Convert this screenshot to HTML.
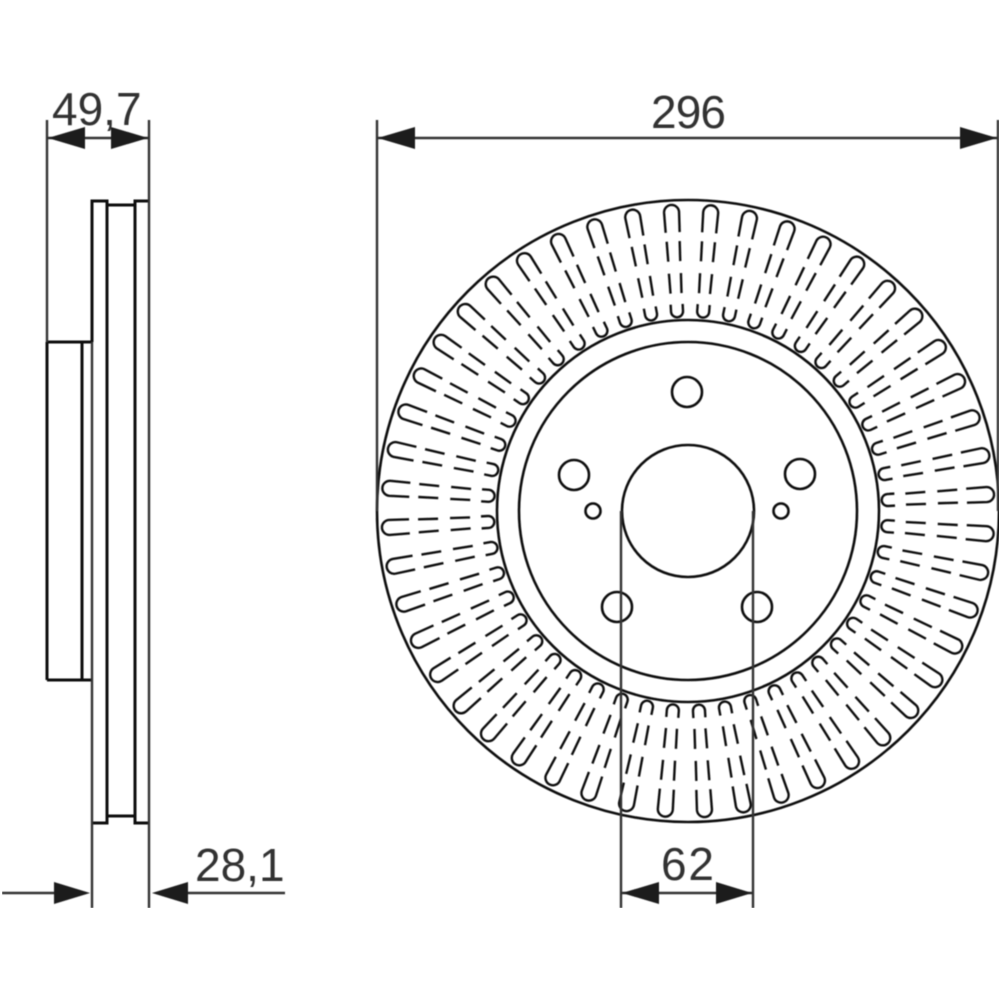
<!DOCTYPE html>
<html>
<head>
<meta charset="utf-8">
<style>
html,body{margin:0;padding:0;background:#fff;width:1000px;height:1000px;overflow:hidden}
svg{display:block}
text{font-family:"Liberation Sans",sans-serif;font-size:46px;fill:#333}
</style>
</head>
<body>
<svg width="1000" height="1000" viewBox="0 0 1000 1000" xmlns="http://www.w3.org/2000/svg">
<defs>
<filter id="b" x="0" y="0" width="100%" height="100%"><feGaussianBlur stdDeviation="0.4"/></filter>
<g id="v" fill="none" stroke="#111" stroke-width="2.4" stroke-linecap="butt">
<path d="M681,232 L680.5,212 A7.5,7.5 0 0 1 695.5,212 L695,232"/>
<path d="M681.5,241 L682,261 M694.5,241 L694,261"/>
<path d="M682,273 L682.5,293 M694,273 L693.5,293"/>
<path d="M682,304 L682,311 A6,6 0 0 0 694,311 L694,304"/>
</g>
<g id="q">
<use href="#v" transform="rotate(3.75 688 511)"/>
<use href="#v" transform="rotate(11.25 688 511)"/>
<use href="#v" transform="rotate(18.75 688 511)"/>
<use href="#v" transform="rotate(26.25 688 511)"/>
<use href="#v" transform="rotate(33.75 688 511)"/>
<use href="#v" transform="rotate(41.25 688 511)"/>
<use href="#v" transform="rotate(48.75 688 511)"/>
<use href="#v" transform="rotate(56.25 688 511)"/>
<use href="#v" transform="rotate(63.75 688 511)"/>
<use href="#v" transform="rotate(71.25 688 511)"/>
<use href="#v" transform="rotate(78.75 688 511)"/>
<use href="#v" transform="rotate(86.25 688 511)"/>
</g>
</defs>

<g filter="url(#b)">
<!-- Front view vents -->
<g transform="rotate(0.6 688 511)">
<use href="#q"/>
<use href="#q" transform="rotate(90 688 511)"/>
<use href="#q" transform="rotate(180 688 511)"/>
<use href="#q" transform="rotate(270 688 511)"/>
</g>

<!-- Front view circles -->
<g fill="none" stroke="#111" stroke-width="2.6">
<circle cx="688" cy="511" r="311"/>
<circle cx="688" cy="511" r="191"/>
<circle cx="688" cy="511" r="169"/>
<circle cx="688" cy="511" r="66"/>
<circle cx="687" cy="392" r="15"/>
<circle cx="574" cy="475" r="15"/>
<circle cx="800" cy="474" r="15"/>
<circle cx="617" cy="607" r="15"/>
<circle cx="757" cy="607" r="15"/>
<circle cx="593" cy="511" r="7.5"/>
<circle cx="781" cy="511" r="7.5"/>
</g>

<!-- Side view -->
<g fill="none" stroke="#111" stroke-width="3">
<path d="M92,342 V201 H107 V205 H135 V201 H149"/>
<path d="M92,823 H107 V816 H135 V823 H149"/>
<path d="M107,201 V823 M135,201 V823"/>
<path d="M47,342 H92 M47,680 H92 M82,342 V680 M47,342 V680"/>
</g>

<!-- Dimension lines -->
<g fill="none" stroke="#333" stroke-width="2.4">
<path d="M47,120 V342"/>
<path d="M149,120 V908"/>
<path d="M92,342 V908"/>
<path d="M377,120 V511"/>
<path d="M998,120 V511"/>
<path d="M621,511 V908"/>
<path d="M753,511 V908"/>
<path d="M47,138 H149"/>
<path d="M378,138 H997"/>
<path d="M622,893 H752"/>
<path d="M2,893 H60"/>
<path d="M185,893 H285"/>
</g>

<!-- Arrowheads -->
<g fill="#1a1a1a">
<polygon points="48,138 85,127 85,149"/>
<polygon points="148,138 111,127 111,149"/>
<polygon points="378,138 415,127 415,149"/>
<polygon points="997,138 960,127 960,149"/>
<polygon points="622,893 659,882 659,904"/>
<polygon points="752,893 716,882 716,904"/>
<polygon points="90,893 54,882 54,904"/>
<polygon points="152,893 188,882 188,904"/>
</g>

<!-- Labels -->
<text x="52" y="125">49,7</text>
<text x="651" y="128" textLength="75">296</text>
<text x="195" y="881">28,1</text>
<text x="661" y="880" textLength="53">62</text>
</g>
</svg>
</body>
</html>
